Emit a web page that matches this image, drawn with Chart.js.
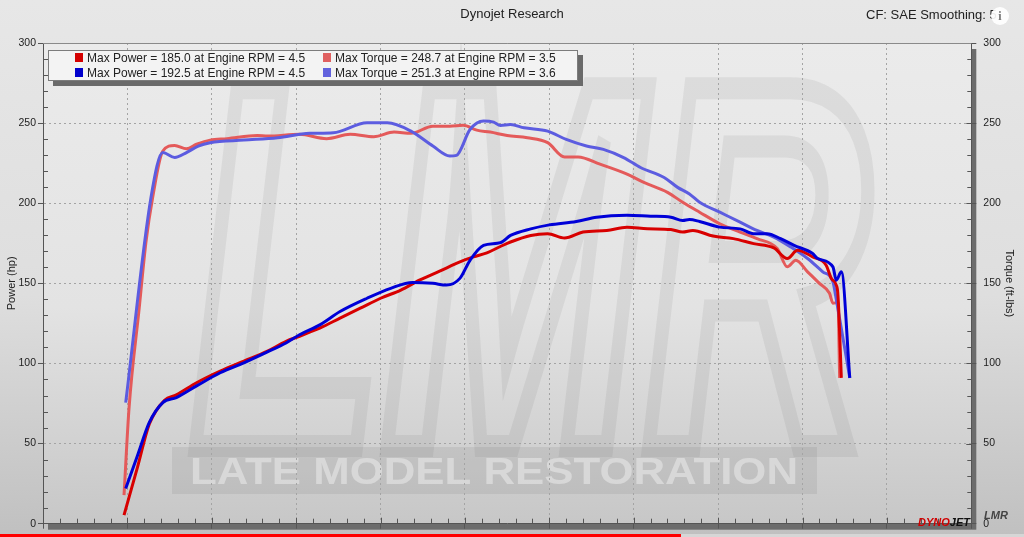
<!DOCTYPE html>
<html><head><meta charset="utf-8">
<script src="https://cdn.jsdelivr.net/npm/chart.js@4.4.1/dist/chart.umd.min.js"></script>
<style>
html,body{margin:0;padding:0;}
body{width:1024px;height:537px;overflow:hidden;position:relative;background:linear-gradient(to bottom,#e7e7e7 0%,#dedede 55%,#c0c0c0 100%);font-family:"Liberation Sans",Arial,sans-serif;}
#c{position:absolute;left:0;top:0;}
#legend{position:absolute;left:48px;top:50px;width:530px;height:31px;box-sizing:border-box;background:#f3f3f3;border:1px solid #7c7c7c;box-shadow:5px 5px 0 #6a6a6a;}
.li{position:absolute;font-size:12px;color:#222;white-space:nowrap;line-height:14px;}
.sw{position:absolute;width:8px;height:9px;}
#cf{position:absolute;left:866px;top:7px;font-size:13px;line-height:16px;color:#222;white-space:nowrap;}
#info{position:absolute;left:991px;top:7px;width:18px;height:18px;border-radius:50%;background:rgba(255,255,255,0.9);color:#777;font:bold 12px/18px "Liberation Serif",serif;text-align:center;}
#dj{position:absolute;left:918px;top:515px;font:italic bold 11px/14px "Liberation Sans",Arial,sans-serif;color:#111;}
#dj span{color:#d00000;}
#lmr{position:absolute;left:984px;top:508px;font:italic bold 11px/14px "Liberation Sans",Arial,sans-serif;color:#444;}
#pb{position:absolute;left:0;top:534px;width:681px;height:3px;background:#f00;}
#pb2{position:absolute;left:681px;top:534px;width:343px;height:3px;background:rgba(255,255,255,0.35);}
</style>
</head><body>
<canvas id="c" width="1024" height="537"></canvas>
<div id="legend"></div>
<div id="cf">CF: SAE Smoothing: 5</div>
<div id="info">i</div>
<div id="dj"><span>DYNO</span>JET</div>
<div id="lmr">LMR</div>
<div id="pb"></div><div id="pb2"></div>
<script>
// ---- data (engine RPM in thousands) ----
const rpmRedPower = [1.48,1.56,1.63,1.72,1.79,1.91,2.05,2.19,2.33,2.44,2.52,2.58,2.64,2.76,2.88,3.00,3.12,3.23,3.35,3.47,3.55,3.63,3.71,3.77,3.89,3.99,4.09,4.20,4.34,4.46,4.58,4.72,4.79,4.85,4.97,5.09,5.21,5.33,5.41,5.47,5.56,5.64,5.67,5.70,5.71,5.73];
const redPower = [5.4,35.3,62.2,77.0,80.4,88.0,95.3,101.5,107.7,113.8,117.0,119.5,122.1,128.3,134.5,140.7,145.8,152.0,157.6,163.4,166.5,169.0,173.0,175.8,179.9,181.0,178.3,182.0,183.0,185.0,184.1,183.6,182.0,183.0,179.5,177.9,174.8,172.1,165.5,170.6,166.5,161.3,153.1,148.9,142.7,91.0];

const rpmRedTorque = [1.48,1.51,1.57,1.61,1.65,1.71,1.78,1.85,1.91,1.99,2.09,2.27,2.33,2.52,2.68,2.82,2.96,3.08,3.18,3.31,3.41,3.49,3.57,3.65,3.75,3.87,3.99,4.09,4.17,4.30,4.46,4.56,4.70,4.79,4.89,5.01,5.13,5.23,5.35,5.41,5.46,5.53,5.60,5.66,5.68,5.71,5.72];
const redTorque = [17.8,72.5,134.5,175.8,203.7,232.6,236.1,234.0,236.8,239.4,240.3,242.3,241.9,243.0,240.3,243.0,241.5,244.4,243.6,248.1,248.1,248.7,245.6,244.4,242.3,240.9,237.8,228.9,228.9,224.4,218.2,213.0,206.8,200.6,194.4,187.2,182.0,177.9,171.7,160.3,164.4,157.2,150.0,143.8,137.6,138.0,91.0];

const rpmBluePower = [1.49,1.56,1.63,1.71,1.79,1.91,2.05,2.19,2.33,2.44,2.52,2.64,2.76,2.92,3.06,3.19,3.31,3.39,3.47,3.53,3.61,3.71,3.77,3.89,4.00,4.16,4.28,4.46,4.60,4.72,4.79,4.83,4.89,5.01,5.13,5.21,5.29,5.37,5.45,5.56,5.59,5.68,5.70,5.73,5.78];
const bluePower = [21.9,42.6,63.2,75.6,78.7,86.0,94.2,100.4,107.2,112.8,117.9,124.1,132.4,140.7,146.9,150.6,150.0,148.9,153.1,164.4,173.7,175.4,179.9,184.0,186.5,188.6,191.3,192.5,191.9,191.3,189.2,189.8,188.6,185.1,184.0,181.0,181.0,177.9,173.7,168.6,165.5,160.3,152.0,157.2,91.0];

const rpmBlueTorque = [1.49,1.64,1.71,1.78,1.85,1.92,1.99,2.19,2.39,2.58,2.72,2.92,3.04,3.18,3.31,3.41,3.45,3.53,3.61,3.67,3.71,3.77,3.85,3.99,4.10,4.22,4.32,4.44,4.54,4.68,4.76,4.83,4.89,5.01,5.13,5.23,5.33,5.43,5.53,5.62,5.68,5.70,5.78];
const blueTorque = [75.6,203.7,231.6,228.5,231.6,235.7,237.8,239.4,240.9,243.6,244.0,250.2,250.2,245.0,235.7,229.5,229.9,246.0,251.3,250.6,248.5,249.1,247.1,245.0,239.8,235.7,233.6,228.5,222.3,216.1,209.9,205.8,200.6,194.4,188.2,183.0,178.9,172.7,165.5,157.2,151.0,140.0,91.0];

const legendLabels = [
  'Max Power = 185.0 at Engine RPM = 4.5',
  'Max Torque = 248.7 at Engine RPM = 3.5',
  'Max Power = 192.5 at Engine RPM = 4.5',
  'Max Torque = 251.3 at Engine RPM = 3.6'
];
const powerTicks = [0,50,100,150,200,250,300];

const FONT = '"Liberation Sans", Arial, sans-serif';
const pts = (xs, ys) => xs.map((x, i) => ({x: x, y: ys[i]}));

const bgPlugin = {
  id: 'bg',
  beforeDraw(chart) {
    const {ctx, chartArea: a} = chart;
    const w = a.right - a.left, h = a.bottom - a.top;
    ctx.save();
    ctx.fillStyle = '#6c6c6c';
    ctx.fillRect(a.left + 5, a.top + 6, w, h);
    const g = ctx.createLinearGradient(0, a.top, 0, a.bottom);
    g.addColorStop(0, '#ebebeb'); g.addColorStop(0.55, '#e3e3e3'); g.addColorStop(1, '#c7c7c7');
    ctx.fillStyle = g; ctx.fillRect(a.left, a.top, w, h);
    ctx.beginPath(); ctx.rect(a.left, a.top, w, h); ctx.clip();
    // watermark letters
    ctx.save();
    ctx.font = 'bold italic 520px ' + FONT;
    const mw = ctx.measureText('LMR').width;
    ctx.translate(190, 446); ctx.scale(680 / mw, 1);
    ctx.lineWidth = 22; ctx.strokeStyle = 'rgba(70,70,70,0.08)';
    ctx.strokeText('LMR', 0, 0);
    ctx.restore();
    ctx.fillStyle = 'rgba(80,80,80,0.10)';
    ctx.fillRect(172, 447, 645, 47);
    ctx.save();
    ctx.font = 'bold 36px ' + FONT;
    const t = 'LATE MODEL RESTORATION';
    const tw = ctx.measureText(t).width;
    ctx.translate(190, 484); ctx.scale(608 / tw, 1);
    ctx.fillStyle = 'rgba(255,255,255,0.38)';
    ctx.fillText(t, 0, 0);
    ctx.restore();
    ctx.restore();
  },
  afterDraw(chart) {
    const {ctx, chartArea: a, scales} = chart;
    ctx.save();
    ctx.strokeStyle = '#555'; ctx.lineWidth = 1;
    ctx.beginPath();
    for (let v = 10; v < 300; v += 10) {
      const y = Math.round(scales.y.getPixelForValue(v)) + 0.5;
      const len = v % 50 === 0 ? 0 : 5;
      if (len) { ctx.moveTo(a.left, y); ctx.lineTo(a.left + len, y); }
      const len2 = v % 50 === 0 ? 5 : 4;
      ctx.moveTo(a.right - len2, y); ctx.lineTo(a.right, y);
    }
    for (let i = 10; i <= 65; i++) {
      const x = Math.round(scales.x.getPixelForValue(i / 10)) + 0.5;
      const len = i % 5 === 0 ? 6 : 5;
      ctx.moveTo(x, a.bottom - len); ctx.lineTo(x, a.bottom);
    }
    ctx.stroke();
    ctx.strokeStyle = '#8a8a8a';
    ctx.beginPath(); ctx.moveTo(a.left, a.top + 0.5); ctx.lineTo(a.right, a.top + 0.5); ctx.stroke();
    ctx.restore();
  }
};

const lineStyle = (color, order) => ({
  borderColor: color, backgroundColor: color, borderWidth: 3, pointRadius: 0,
  cubicInterpolationMode: 'monotone', fill: false, order: order
});

const datasets = [
  Object.assign({label: legendLabels[0], data: pts(rpmRedPower, redPower), yAxisID: 'y'}, lineStyle('#d80000', 1)),
  Object.assign({label: legendLabels[1], data: pts(rpmRedTorque, redTorque), yAxisID: 'y1'}, lineStyle('#e45a5a', 3)),
  Object.assign({label: legendLabels[2], data: pts(rpmBluePower, bluePower), yAxisID: 'y'}, lineStyle('#0000d8', 0)),
  Object.assign({label: legendLabels[3], data: pts(rpmBlueTorque, blueTorque), yAxisID: 'y1'}, lineStyle('#5c5ce0', 2))
];

const gridCommon = {color: '#a4a4a4', tickColor: '#555', tickLength: 5, tickBorderDash: [], lineWidth: 1};

const chart = new Chart(document.getElementById('c'), {
  type: 'line',
  data: {datasets: datasets},
  options: {
    responsive: false, animation: false, events: [],
    layout: {padding: 0},
    plugins: {
      legend: {display: false}, tooltip: {enabled: false},
      title: {display: true, text: 'Dynojet Research', color: '#222', font: {family: FONT, size: 13, weight: 'normal'}, padding: {top: 7, bottom: 20.4}}
    },
    scales: {
      x: {
        type: 'linear', min: 1.0, max: 6.5,
        ticks: {display: false, stepSize: 0.5},
        grid: Object.assign({}, gridCommon),
        border: {display: true, color: '#555', width: 1, dash: [2, 3]},
        afterFit: s => { s.height = 10; }
      },
      y: {
        position: 'left', min: 0, max: 300,
        afterBuildTicks: s => { s.ticks = powerTicks.map(v => ({value: v})); },
        ticks: {color: '#222', font: {family: FONT, size: 10.5}, padding: 2},
        grid: Object.assign({}, gridCommon),
        border: {display: true, color: '#555', width: 1, dash: [2, 3]},
        title: {display: true, text: 'Power (hp)', color: '#222', font: {family: FONT, size: 11}, padding: {top: 5.4, bottom: 0}},
        afterFit: s => { s.width = 43; }
      },
      y1: {
        position: 'right', min: 0, max: 300,
        afterBuildTicks: s => { s.ticks = powerTicks.map(v => ({value: v})); },
        ticks: {color: '#222', font: {family: FONT, size: 10.5}, padding: 7},
        grid: Object.assign({drawOnChartArea: false}, gridCommon),
        border: {display: true, color: '#555', width: 1},
        title: {display: true, text: 'Torque (ft-lbs)', color: '#222', font: {family: FONT, size: 11}, padding: {top: 8.4, bottom: 0}},
        afterFit: s => { s.width = 52.7; }
      }
    }
  },
  plugins: [bgPlugin]
});

// HTML legend built from the datasets (2 x 2 layout)
const lg = document.getElementById('legend');
const slots = [[0, 0], [0, 1], [1, 0], [1, 1]];
const legendSw = ['#d40000', '#e06060', '#0000cc', '#6262dd'];
chart.data.datasets.forEach((ds, i) => {
  const [row, col] = slots[i];
  const sw = document.createElement('div');
  sw.className = 'sw';
  sw.style.left = (col ? 274 : 26) + 'px';
  sw.style.top = (row ? 17 : 2) + 'px';
  sw.style.background = legendSw[i];
  const tx = document.createElement('div');
  tx.className = 'li';
  tx.style.left = (col ? 286 : 38) + 'px';
  tx.style.top = (row ? 14.5 : 0) + 'px';
  tx.textContent = ds.label;
  lg.appendChild(sw); lg.appendChild(tx);
});
</script>
</body></html>
